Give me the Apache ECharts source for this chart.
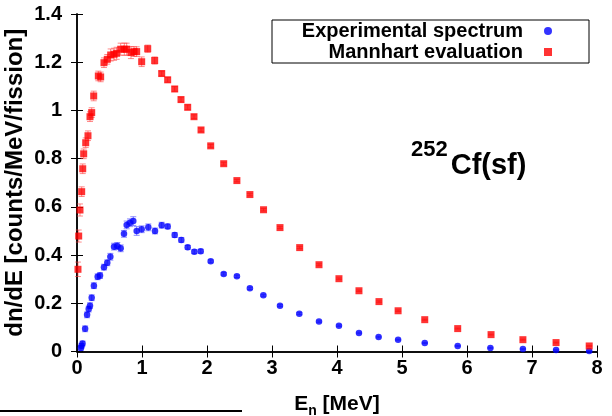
<!DOCTYPE html>
<html>
<head>
<meta charset="utf-8">
<script src="https://cdn.jsdelivr.net/npm/echarts@6/dist/echarts.min.js"></script>
<style>html,body{margin:0;padding:0;background:#fff;}#c{width:612px;height:416px;}</style>
</head>
<body>
<div id="c"></div>
<script>
// Mannhart evaluation
const mannE = [0.015,0.026,0.046,0.072,0.088,0.103,0.134,0.169,0.2,0.226,0.257,0.328,0.364,0.415,0.466,0.518,0.57,0.61,0.672,0.728,0.764,0.83,0.877,0.918,0.995,1.088,1.195,1.303,1.395,1.503,1.6,1.703,1.8,1.908,2.057,2.257,2.46,2.66,2.87,3.123,3.426,3.723,4.03,4.338,4.646,4.94,5.35,5.857,6.37,6.86,7.37,7.88];
const mannV = [0.341,0.479,0.587,0.663,0.758,0.82,0.866,0.895,0.974,0.991,1.06,1.143,1.139,1.198,1.212,1.23,1.233,1.237,1.254,1.254,1.254,1.24,1.244,1.244,1.202,1.256,1.207,1.153,1.127,1.089,1.045,1.013,0.974,0.919,0.853,0.779,0.709,0.651,0.588,0.514,0.431,0.36,0.302,0.252,0.207,0.169,0.132,0.095,0.07,0.049,0.037,0.023];
const mannErr = [0.03,0.025,0.025,0.02,0.02,0.02,0.02,0.02,0.02,0.02,0.02,0.02,0.02,0.02,0.02,0.025,0.025,0.025,0.025,0.025,0.025,0.025,0.02,0.02,0.02,0.015,0.015,0.01,0.01,0.01,0.01,0.01,0.008,0.008,0.006,0.006,0.005,0.005,0.005,0.004,0.004,0.004,0.003,0.003,0.003,0.003,0.002,0.002,0.002,0.002,0.002,0.002];
// Experimental spectrum
const expE = [0.06,0.07,0.085,0.125,0.155,0.18,0.2,0.226,0.26,0.318,0.354,0.415,0.466,0.513,0.57,0.62,0.672,0.723,0.764,0.815,0.866,0.918,0.995,1.097,1.2,1.303,1.395,1.503,1.605,1.703,1.805,1.903,2.057,2.257,2.46,2.66,2.867,3.123,3.42,3.723,4.03,4.338,4.64,4.94,5.35,5.857,6.36,6.86,7.37,7.88];
const expV = [0.015,0.024,0.033,0.094,0.152,0.176,0.19,0.223,0.273,0.31,0.315,0.35,0.368,0.393,0.435,0.438,0.428,0.488,0.525,0.534,0.541,0.50,0.507,0.515,0.50,0.524,0.519,0.483,0.463,0.432,0.414,0.416,0.374,0.322,0.312,0.262,0.233,0.19,0.157,0.124,0.107,0.077,0.06,0.049,0.035,0.023,0.015,0.01,0.006,0.002];
const expErr = [0.01,0.01,0.01,0.012,0.012,0.012,0.012,0.012,0.012,0.012,0.012,0.012,0.012,0.014,0.014,0.014,0.014,0.014,0.016,0.016,0.018,0.018,0.014,0.014,0.012,0.012,0.01,0.01,0.01,0.008,0.008,0.008,0.006,0.005,0.005,0.005,0.004,0.004,0.004,0.003,0.003,0.003,0.003,0.002,0.002,0.002,0.002,0.002,0.002,0.002];
const xTicks = {min: 0, max: 8, interval: 1};
const yTicks = {min: 0, max: 1.4, interval: 0.2};

const FONT = 'Liberation Sans';
const chart = echarts.init(document.getElementById('c'), null, {renderer: 'canvas'});

function errBars(color) {
  return function (params, api) {
    const x = api.value(0), y = api.value(1), e = api.value(2);
    const t = api.coord([x, y + e]), b = api.coord([x, y - e]);
    const cap = 3;
    const st = {stroke: color, lineWidth: 1};
    return {type: 'group', children: [
      {type: 'line', shape: {x1: t[0], y1: t[1], x2: b[0], y2: b[1]}, style: st},
      {type: 'line', shape: {x1: t[0] - cap, y1: t[1], x2: t[0] + cap, y2: t[1]}, style: st},
      {type: 'line', shape: {x1: b[0] - cap, y1: b[1], x2: b[0] + cap, y2: b[1]}, style: st}
    ]};
  };
}

const axisLine = {show: true, lineStyle: {color: '#000', width: 1.5}};
const tick = {show: true, inside: true, length: 6, lineStyle: {color: '#000', width: 1}};
const lbl = {color: '#000', fontSize: 20, fontWeight: 'bold', fontFamily: FONT};

const option = {
  animation: false,
  backgroundColor: '#fff',
  grid: {left: 77, right: 15, top: 14, bottom: 64.5, containLabel: false, outerBoundsMode: 'none'},
  title: {
    left: 406, top: 134,
    text: '{sup|252}{main|Cf(sf)}',
    textStyle: {
      rich: {
        sup: {fontSize: 22, fontWeight: 'bold', fontFamily: FONT, color: '#000', verticalAlign: 'top', lineHeight: 22},
        main: {fontSize: 29, fontWeight: 'bold', fontFamily: FONT, color: '#000', lineHeight: 54, padding: [0, 0, 0, 3]}
      }
    }
  },
  legend: {
    left: 272, top: 20,
    orient: 'vertical',
    align: 'right',
    padding: [1, 37, 1, 21],
    itemGap: 1,
    itemWidth: 8, itemHeight: 8,
    borderColor: '#000', borderWidth: 1,
    selectedMode: false,
    data: [
      {name: 'Experimental spectrum', icon: 'circle'},
      {name: 'Mannhart evaluation', icon: 'rect'}
    ],
    textStyle: {fontSize: 20, fontWeight: 'bold', fontFamily: FONT, color: '#000', width: 230, align: 'right', lineHeight: 20, padding: [0, 16, 0, 0]}
  },
  xAxis: [{
    type: 'value', min: xTicks.min, max: xTicks.max, interval: xTicks.interval,
    position: 'bottom',
    name: 'E{sub|n} [MeV]', nameLocation: 'middle', nameGap: 39, nameMoveOverlap: false,
    nameTextStyle: {fontSize: 21, fontWeight: 'bold', fontFamily: FONT, color: '#000', lineHeight: 28,
      rich: {sub: {fontSize: 14, fontWeight: 'bold', fontFamily: FONT, color: '#000', verticalAlign: 'bottom', lineHeight: 14}}},
    axisLine: axisLine, axisTick: tick, splitLine: {show: false},
    axisLabel: Object.assign({margin: 7}, lbl)
  }, {
    type: 'value', min: xTicks.min, max: xTicks.max, interval: xTicks.interval,
    position: 'top',
    axisLine: axisLine, axisTick: tick, splitLine: {show: false}, axisLabel: {show: false}
  }],
  yAxis: [{
    type: 'value', min: yTicks.min, max: yTicks.max, interval: yTicks.interval,
    position: 'left',
    name: 'dn/dE [counts/MeV/fission]', nameLocation: 'middle', nameGap: 50, nameRotate: 90, nameMoveOverlap: false,
    nameTextStyle: {fontSize: 24, fontWeight: 'bold', fontFamily: FONT, color: '#000'},
    axisLine: axisLine, axisTick: tick, splitLine: {show: false},
    axisLabel: Object.assign({margin: 15}, lbl)
  }, {
    type: 'value', min: yTicks.min, max: yTicks.max, interval: yTicks.interval,
    position: 'right',
    axisLine: axisLine, axisTick: tick, splitLine: {show: false}, axisLabel: {show: false}
  }],
  graphic: [{
    type: 'line', shape: {x1: 0, y1: 411, x2: 242, y2: 411}, style: {stroke: '#000', lineWidth: 2}
  }],
  series: [
    {
      name: 'expErr', type: 'custom', silent: true, z: 1,
      renderItem: errBars('rgba(60,60,255,0.6)'),
      encode: {x: 0, y: 1},
      data: expE.map((e, i) => [e, expV[i], expErr[i]])
    },
    {
      name: 'mannErr', type: 'custom', silent: true, z: 1,
      renderItem: errBars('rgba(255,60,60,0.6)'),
      encode: {x: 0, y: 1},
      data: mannE.map((e, i) => [e, mannV[i], mannErr[i]])
    },
    {
      name: 'Experimental spectrum', type: 'scatter', z: 3,
      symbol: 'circle', symbolSize: 6.5,
      itemStyle: {color: '#0000ff'},
      data: expE.map((e, i) => [e, expV[i]])
    },
    {
      name: 'Mannhart evaluation', type: 'scatter', z: 4,
      symbol: 'rect', symbolSize: 7,
      itemStyle: {color: '#ff0000'},
      data: mannE.map((e, i) => [e, mannV[i]])
    }
  ]
};
chart.setOption(option);
</script>
</body>
</html>
